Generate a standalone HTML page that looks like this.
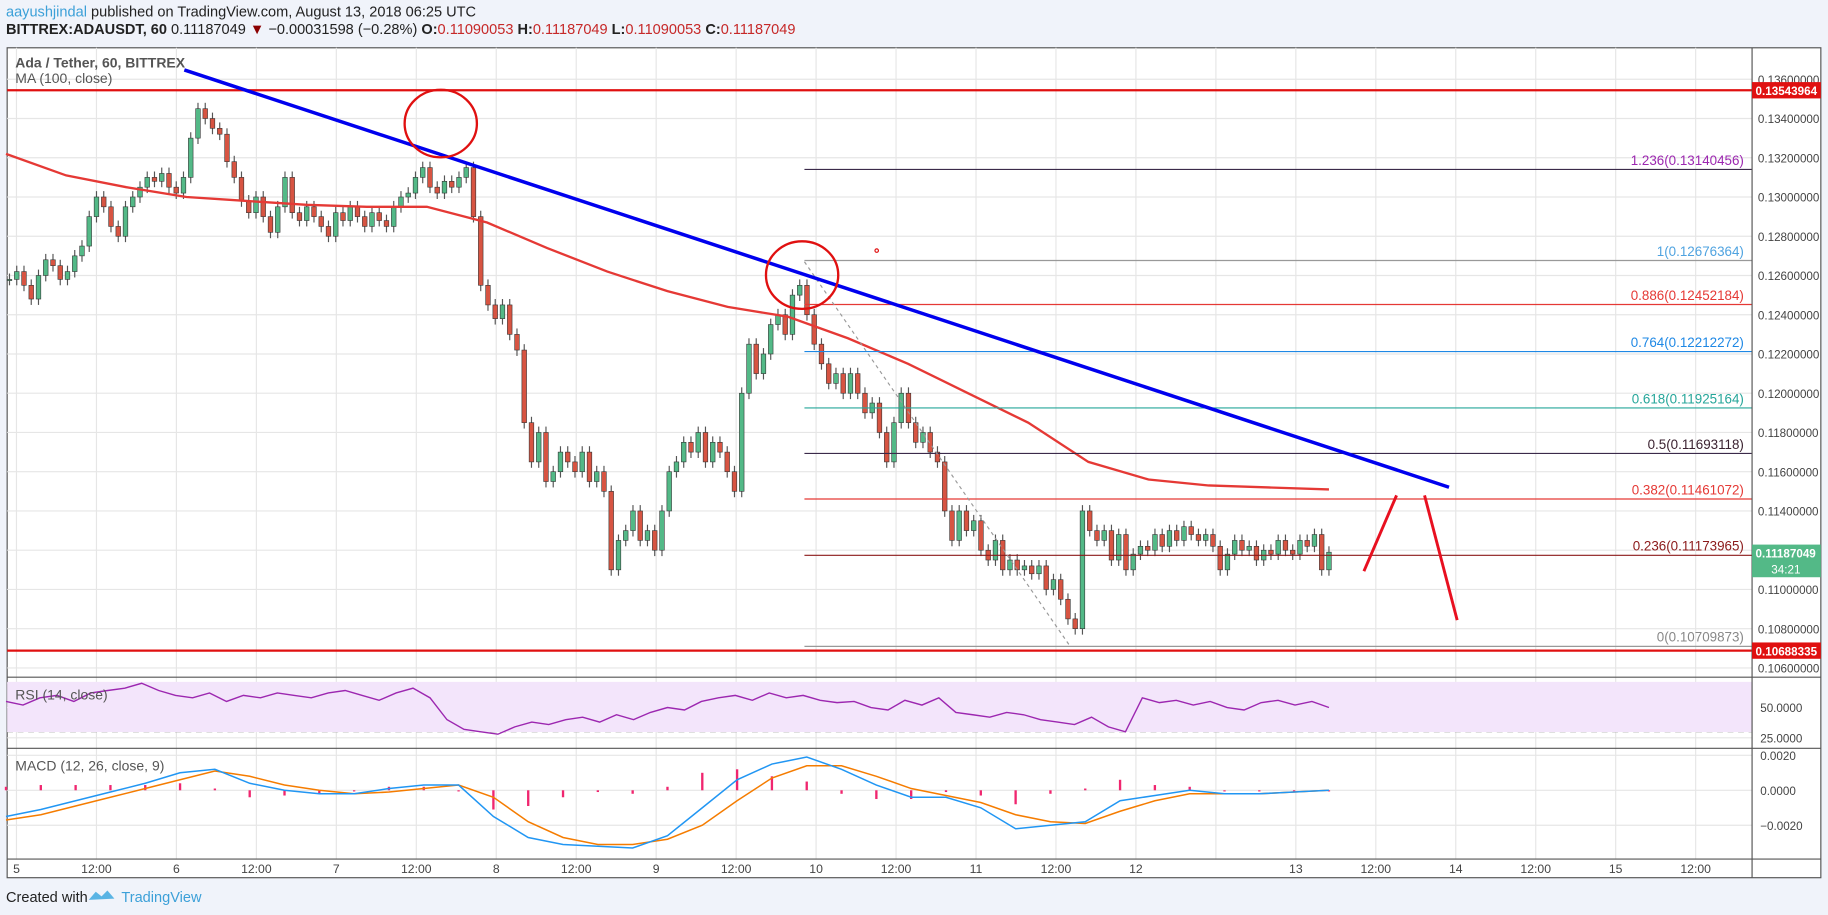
<!DOCTYPE html>
<html><head><meta charset="utf-8">
<style>
html,body{margin:0;padding:0;background:#f0f3fa;}
svg{display:block;font-family:"Liberation Sans",sans-serif;}
</style></head>
<body>
<svg id="chart" width="1828" height="915" viewBox="0 0 1568 785" xmlns="http://www.w3.org/2000/svg">
<rect x="0" y="0" width="1568" height="785" fill="#f0f3fa"/>
<text x="5" y="14" font-size="12.5" fill="#222"><tspan fill="#3ca0d8">aayushjindal</tspan> published on TradingView.com, August 13, 2018 06:25 UTC</text>
<text x="5" y="29" font-size="12.5" fill="#222"><tspan font-weight="bold">BITTREX:ADAUSDT, 60</tspan> 0.11187049 <tspan fill="#8b0000">▼</tspan> −0.00031598 (−0.28%) <tspan font-weight="bold">O:</tspan><tspan fill="#c62828">0.11090053</tspan> <tspan font-weight="bold">H:</tspan><tspan fill="#c62828">0.11187049</tspan> <tspan font-weight="bold">L:</tspan><tspan fill="#c62828">0.11090053</tspan> <tspan font-weight="bold">C:</tspan><tspan fill="#c62828">0.11187049</tspan></text>
<rect x="6" y="41" width="1556" height="712" fill="#fff" stroke="#555" stroke-width="1"/>
<g id="grid"></g>
<rect x="6" y="585" width="1497" height="43" fill="#f3e5fb"/>
<g id="main"></g>
<g id="overlay"></g>
<g id="rsi"></g>
<g id="macd"></g>
<g id="axes"></g>
<text x="13" y="58" font-size="12" font-weight="bold" fill="#555">Ada / Tether, 60, BITTREX</text>
<text x="13" y="71" font-size="12" fill="#555">MA (100, close)</text>
<text x="13" y="600" font-size="12" fill="#555">RSI (14, close)</text>
<text x="13" y="661" font-size="12" fill="#555">MACD (12, 26, close, 9)</text>
<g>
<text x="5" y="774" font-size="12.5" fill="#222">Created with</text>
<path d="M76 772 l6-7 l5 4 l5-5 l6 7 z" fill="#5ab4e4"/>
<text x="104" y="774" font-size="12.5" fill="#3ca0d8">TradingView</text>
</g>
</svg>
<script>
const closes=[0.1258,0.1262,0.1255,0.1248,0.1260,0.1268,0.1265,0.1258,
0.1262,0.1270,0.1275,0.1290,0.1300,0.1295,0.1285,0.1280,0.1295,0.1300,
0.1305,0.1310,0.1308,0.1312,0.1305,0.1302,0.1310,
0.1330,0.1345,0.1340,
0.1335,0.1332,0.1318,0.1310,
0.1298,0.1292,0.1300,0.1290,0.1282,0.1295,
0.1310,0.1292,0.1288,0.1295,0.1290,0.1285,0.1280,0.1292,0.1288,
0.1295,0.1290,0.1285,0.1292,0.1288,0.1285,0.1295,0.1300,
0.1302,0.1310,0.1315,0.1305,0.1302,0.1308,0.1305,0.1310,0.1315,
0.1290,0.1255,0.1245,0.1238,0.1245,0.1230,0.1222,
0.1185,0.1165,0.1180,0.1155,0.1160,
0.1170,0.1165,0.1160,0.1170,0.1155,0.1160,0.1150,
0.1110,0.1125,0.1130,0.1140,0.1125,0.1130,0.1120,
0.1140,0.1160,0.1165,0.1175,0.1170,0.1180,
0.1165,0.1175,0.1170,0.1160,0.1150,
0.1200,0.1225,0.1210,0.1220,
0.1235,0.1240,0.1230,0.1250,0.1255,
0.1240,0.1225,0.1215,0.1205,0.1210,
0.1200,0.1210,0.1200,0.1190,0.1195,0.1180,0.1165,0.1185,
0.1200,0.1185,0.1175,0.1180,0.1170,0.1165,
0.1140,0.1125,0.1140,0.1130,
0.1135,0.1120,0.1115,0.1125,0.1110,
0.1115,0.1110,0.1112,0.1108,0.1112,0.1100,0.1105,0.1095,0.1085,
0.1080,0.1140,
0.1130,0.1125,0.1130,0.1115,0.1128,
0.1110,0.1118,0.1122,0.1120,0.1128,0.1122,0.1130,0.1125,0.1132,0.1128,0.1125,0.1128,0.1122,0.1110,0.1118,0.1125,0.1120,0.1122,0.1115,0.1120,0.1118,0.1125,0.1120,0.1118,0.1125,0.1122,0.1128,0.1110,0.1119];
const maValues=[0.1322,0.1311,0.1305,0.1300,0.1298,0.1296,0.1295,0.1295,0.1287,0.1274,0.1262,0.1252,0.1244,0.1239,0.1228,0.1215,0.1200,0.1185,0.1165,0.1156,0.1153,0.1152,0.1151];
const rsiValues=[55,52,58,60,55,62,64,66,70,64,60,58,62,55,60,58,62,60,58,62,64,60,56,62,66,58,40,32,30,28,34,38,36,40,42,38,44,40,46,50,48,55,58,60,56,62,58,60,56,54,55,50,48,56,52,58,46,44,42,46,44,40,38,36,42,34,30,58,54,56,52,55,50,48,54,56,52,55,50];
const macdValues=[-.0015,-.0011,-.0006,-.0001,.0004,.0010,.0012,.0004,.0000,-.0002,-.0002,.0001,.0003,.0003,-.0015,-.0027,-.0031,-.0032,-.0033,-.0026,-.0010,.0006,.0015,.0019,.0012,.0003,-.0004,-.0004,-.0010,-.0022,-.0020,-.0018,-.0006,-.0003,.0000,-.0002,-.0002,-.0001,.0000];
const signalValues=[-.0017,-.0014,-.0009,-.0004,.0001,.0006,.0011,.0008,.0003,.0000,-.0002,-.0001,.0001,.0003,-.0004,-.0018,-.0027,-.0031,-.0031,-.0028,-.0020,-.0006,.0007,.0014,.0014,.0008,.0001,-.0003,-.0007,-.0014,-.0018,-.0019,-.0012,-.0006,-.0002,-.0002,-.0002,-.0001,.0000];
const timeLabels=["5","12:00","6","12:00","7","12:00","8","12:00","9","12:00","10","12:00","11","12:00","12","","13","12:00","14","12:00","15","12:00"];
const priceTicks=[0.136,0.134,0.132,0.130,0.128,0.126,0.124,0.122,0.120,0.118,0.116,0.114,0.112,0.110,0.108,0.106];
const fibLevels=["1.236","1","0.886","0.764","0.618","0.5","0.382","0.236","0"];
const fibPrices=[0.13140456,0.12676364,0.12452184,0.12212272,0.11925164,0.11693118,0.11461072,0.11173965,0.10709873];
const fibColors=["#9c27b0","#4fa3e0","#e53935","#1e88e5","#26a69a","#3b2230","#e53935","#8b1a1a","#888"];
const hLinePrices=[0.13543964,0.10688335];
const lastPrice=0.11187049;

const NS="http://www.w3.org/2000/svg";
function mk(tag,attrs,parent){const e=document.createElementNS(NS,tag);for(const k in attrs)e.setAttribute(k,attrs[k]);parent.appendChild(e);return e;}
const PL=6,PR=1503;
const yP=p=>68+(0.136-p)/0.002*33.67;
const yR=v=>607-(v-50)*1.04;
const yM=v=>678-v*15000;
const step=(1140-8)/(closes.length-1);
const xC=i=>8+i*step;
const xS=(i,n)=>5+i*(1140-5)/(n-1);
const xT=i=>14+i*68.6;
const grid=document.getElementById('grid'),main=document.getElementById('main'),ov=document.getElementById('overlay'),rsi=document.getElementById('rsi'),macd=document.getElementById('macd'),axes=document.getElementById('axes');

for(let i=0;i<timeLabels.length;i++){const l=mk('line',{x1:xT(i),x2:xT(i),y1:41,y2:737,stroke:'#e6e6e6'},grid);}
priceTicks.forEach(p=>{const l=mk('line',{x1:PL,x2:PR,y1:yP(p),y2:yP(p),stroke:'#e6e6e6'},grid);});
[50,25].forEach(v=>{const l=mk('line',{x1:PL,x2:PR,y1:yR(v),y2:yR(v),stroke:'#e6e6e6'},grid);});
[0.002,0,-0.002].forEach(v=>{const l=mk('line',{x1:PL,x2:PR,y1:yM(v),y2:yM(v),stroke:'#e6e6e6'},grid);});
[70,30].forEach(v=>{const l=mk('line',{x1:PL,x2:PR,y1:yR(v),y2:yR(v),stroke:'#aaa','stroke-dasharray':'5,4'},grid);});

fibPrices.forEach((p,i)=>{const l=mk('line',{x1:690,x2:PR,y1:yP(p),y2:yP(p),stroke:i==0||i==5?'#3b2a4a':(i==1||i==8?'#999':fibColors[i]),'stroke-width':1},ov);
const t=mk('text',{x:1496,y:yP(p)-4,'font-size':11.5,'text-anchor':'end',fill:fibColors[i]},ov);t.textContent=fibLevels[i]+'('+p.toFixed(8)+')';});
const dl=mk('line',{x1:690,y1:yP(0.1267),x2:918,y2:yP(0.1071),stroke:'#999','stroke-dasharray':'3,3'},ov);

closes.forEach((c,i)=>{const o=i?closes[i-1]:c;const up=c>=o;const col=up?'#53b987':'#d75442';const x=xC(i);
const w=mk('line',{x1:x,x2:x,y1:yP(Math.max(o,c)+0.0003),y2:yP(Math.min(o,c)-0.0003),stroke:'#555'},main);
const t=Math.min(yP(o),yP(c)),h=Math.max(1,Math.abs(yP(o)-yP(c)));
const b=mk('rect',{x:x-2,y:t,width:4,height:h,fill:col,stroke:'#333','stroke-width':0.5},main);});
const ma=mk('polyline',{points:maValues.map((v,i)=>xS(i,maValues.length).toFixed(1)+','+yP(v).toFixed(1)).join(' '),fill:'none',stroke:'#e53935','stroke-width':2},main);

hLinePrices.forEach(p=>{const l=mk('line',{x1:PL,x2:PR,y1:yP(p),y2:yP(p),stroke:'#e01010','stroke-width':2},ov);});
const tl=mk('line',{x1:158,y1:60,x2:1243,y2:418,stroke:'#0000ee','stroke-width':3},ov);
[[378,106],[688,236]].forEach(([cx,cy])=>{const c=mk('ellipse',{cx,cy,rx:31,ry:29,fill:'none',stroke:'#e01010','stroke-width':2},ov);});
const dot=mk('circle',{cx:752,cy:215,r:1.5,fill:'none',stroke:'#e01010'},ov);
const a1=mk('line',{x1:1170,y1:490,x2:1198,y2:425,stroke:'#e81020','stroke-width':2.5},ov);
const a2=mk('line',{x1:1222,y1:425,x2:1250,y2:532,stroke:'#e81020','stroke-width':2.5},ov);

const rl=mk('polyline',{points:rsiValues.map((v,i)=>xS(i,rsiValues.length).toFixed(1)+','+yR(v).toFixed(1)).join(' '),fill:'none',stroke:'#9c27b0','stroke-width':1.2},rsi);
macdValues.forEach((v,i)=>{const d=v-signalValues[i];const x=xS(i,macdValues.length);const b=mk('rect',{x:x-1,y:Math.min(yM(0),yM(d)),width:2,height:Math.max(1,Math.abs(yM(d)-yM(0))),fill:'#f0266f'},macd);});
const sl=mk('polyline',{points:signalValues.map((v,i)=>xS(i,signalValues.length).toFixed(1)+','+yM(v).toFixed(1)).join(' '),fill:'none',stroke:'#f57c00','stroke-width':1.3},macd);
const ml=mk('polyline',{points:macdValues.map((v,i)=>xS(i,macdValues.length).toFixed(1)+','+yM(v).toFixed(1)).join(' '),fill:'none',stroke:'#2196f3','stroke-width':1.3},macd);

[581,642,737].forEach(y=>{const l=mk('line',{x1:6,x2:1562,y1:y,y2:y,stroke:'#555'},axes);});
const ax=mk('line',{x1:PR,x2:PR,y1:41,y2:753,stroke:'#555'},axes);
priceTicks.forEach(p=>{if(p==0.112)return;const t=mk('text',{x:1508,y:yP(p)+4,'font-size':10,fill:'#444'},axes);t.textContent=p.toFixed(8);});
hLinePrices.forEach(p=>{const r=mk('rect',{x:1503,y:yP(p)-7,width:59,height:14,fill:'#e01010'},axes);const t=mk('text',{x:1506,y:yP(p)+4,'font-size':10,fill:'#fff','font-weight':'bold'},axes);t.textContent=p.toFixed(8);});
const cb=mk('rect',{x:1503,y:yP(lastPrice)-7,width:59,height:28,fill:'#53b987'},axes);
const ct=mk('text',{x:1506,y:yP(lastPrice)+4,'font-size':10,fill:'#fff','font-weight':'bold'},axes);ct.textContent=lastPrice.toFixed(8);
const cd=mk('text',{x:1532,y:yP(lastPrice)+18,'font-size':10,fill:'#fff','text-anchor':'middle'},axes);cd.textContent='34:21';
[[50,'50.0000'],[25,'25.0000']].forEach(([v,s])=>{const t=mk('text',{x:1510,y:yR(v)+4,'font-size':10,fill:'#444'},axes);t.textContent=s;});
[[0.002,'0.0020'],[0,'0.0000'],[-0.002,'−0.0020']].forEach(([v,s])=>{const t=mk('text',{x:1510,y:yM(v)+4,'font-size':10,fill:'#444'},axes);t.textContent=s;});
timeLabels.forEach((s,i)=>{if(!s)return;const t=mk('text',{x:xT(i),y:749,'font-size':10.5,fill:'#444','text-anchor':'middle'},axes);t.textContent=s;});
</script>
</body></html>
